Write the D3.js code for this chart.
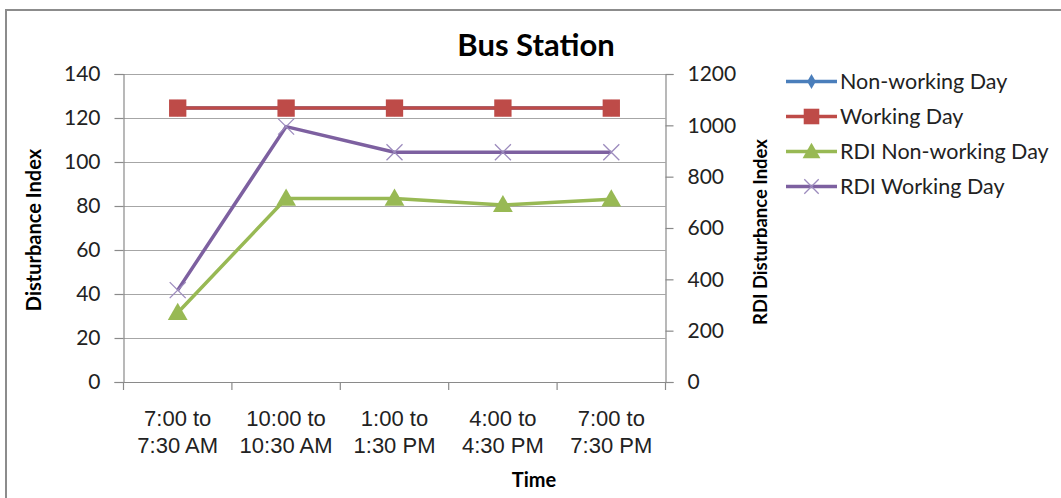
<!DOCTYPE html>
<html>
<head>
<meta charset="utf-8">
<script src="https://cdn.jsdelivr.net/npm/d3@7"></script>
<style>
  html, body { margin: 0; padding: 0; background: #fff; }
  svg { display: block; font-family: Lato, "Open Sans", sans-serif; }
</style>
</head>
<body>
<svg id="chart" width="1061" height="498"></svg>
<script>
// Time slots on the x axis (two lines each)
const categories = [
  "7:00 to|7:30 AM",
  "10:00 to|10:30 AM",
  "1:00 to|1:30 PM",
  "4:00 to|4:30 PM",
  "7:00 to|7:30 PM"
];

// Disturbance Index (left axis)
const nonWorkingDay = [124.5, 124.5, 124.5, 124.5, 124.5];
const workingDay    = [124.5, 124.5, 124.5, 124.5, 124.5];

// RDI Disturbance Index (right axis)
const rdiNonWorkingDay = [270, 715, 715, 690, 712];
const rdiWorkingDay    = [358, 995, 895, 895, 895];

const leftTicks  = [0, 20, 40, 60, 80, 100, 120, 140];
const rightTicks = [0, 200, 400, 600, 800, 1000, 1200];

const series = [
  { name: "Non-working Day",     values: nonWorkingDay,    axis: "left",  color: "#4A7EBB", marker: "diamond" },
  { name: "Working Day",         values: workingDay,       axis: "left",  color: "#BE4B48", marker: "square" },
  { name: "RDI Non-working Day", values: rdiNonWorkingDay, axis: "right", color: "#98B954", marker: "triangle" },
  { name: "RDI Working Day",     values: rdiWorkingDay,    axis: "right", color: "#7D60A0", marker: "cross" }
];

const svg = d3.select("#chart");
const plot = { left: 123.5, right: 665.5, top: 74, bottom: 382 };

const x = d3.scaleBand().domain(categories).range([plot.left, plot.right]);
const yL = d3.scaleLinear().domain([0, 140]).range([plot.bottom, plot.top]);
const yR = d3.scaleLinear().domain([0, 1200]).range([plot.bottom, plot.top]);
const cx = c => x(c) + x.bandwidth() / 2;

const axisColor = "#8a8a8a";
const textColor = "#222";

// outer chart frame
svg.append("rect")
  .attr("x", 6).attr("y", 10)
  .attr("width", 1070).attr("height", 500)
  .attr("fill", "none").attr("stroke", "#8c8c8c").attr("stroke-width", 2);

// horizontal gridlines from the left axis
svg.append("g")
  .attr("transform", `translate(${plot.left},0)`)
  .call(d3.axisLeft(yL).tickValues(leftTicks).tickSize(-(plot.right - plot.left)).tickFormat(""))
  .call(g => g.select(".domain").remove())
  .call(g => g.selectAll("line").attr("stroke", "#a6a6a6").attr("stroke-width", 1.2));

// left axis
svg.append("g")
  .attr("transform", `translate(${plot.left},0)`)
  .call(d3.axisLeft(yL).tickValues(leftTicks).tickSize(9).tickPadding(14))
  .call(g => g.select(".domain").attr("stroke", axisColor).attr("stroke-width", 1.2))
  .call(g => g.selectAll("line").attr("stroke", axisColor).attr("stroke-width", 1.2))
  .call(g => g.selectAll("text").attr("fill", textColor)
    .style("font-size", "21px").style("font-family", "Lato, sans-serif"));

// right axis
svg.append("g")
  .attr("transform", `translate(${plot.right},0)`)
  .call(d3.axisRight(yR).tickValues(rightTicks).tickFormat(d3.format("d")).tickSize(8).tickPadding(14))
  .call(g => g.select(".domain").attr("stroke", axisColor).attr("stroke-width", 1.2))
  .call(g => g.selectAll("line").attr("stroke", axisColor).attr("stroke-width", 1.2))
  .call(g => g.selectAll("text").attr("fill", textColor)
    .style("font-size", "21px").style("font-family", "Lato, sans-serif"));

// bottom axis: labels centred on each slot, ticks on slot boundaries
const xAxis = svg.append("g")
  .attr("transform", `translate(0,${plot.bottom})`)
  .call(d3.axisBottom(x).tickSize(0).tickPadding(0).tickFormat(""))
  .call(g => g.select(".domain").attr("stroke", axisColor).attr("stroke-width", 1.2));

const bounds = categories.map(c => x(c)).concat([x.range()[1]]);
xAxis.selectAll(".bnd").data(bounds).join("line")
  .attr("x1", d => d).attr("x2", d => d)
  .attr("y1", 0).attr("y2", 8)
  .attr("stroke", axisColor).attr("stroke-width", 1.2);

xAxis.selectAll(".tick text").remove();
const xl = xAxis.selectAll(".xlab").data(categories).join("text")
  .attr("class", "xlab")
  .attr("x", d => cx(d))
  .attr("text-anchor", "middle")
  .attr("fill", textColor)
  .style("font-size", "22px");
xl.selectAll("tspan").data(d => d.split("|")).join("tspan")
  .attr("x", function () { return d3.select(this.parentNode).attr("x"); })
  .attr("y", (d, i) => 44 + i * 27)
  .text(d => d);

// lines and markers
const sym = {
  diamond: d3.symbolDiamond,
  square: d3.symbolSquare,
  triangle: d3.symbolTriangle
};

function drawMarker(g, type, color, px, py, scale) {
  scale = scale || 1;
  if (type === "cross") {
    const s = 8 * scale;
    g.append("path")
      .attr("d", `M${px - s},${py - s}L${px + s},${py + s}M${px - s},${py + s}L${px + s},${py - s}`)
      .attr("stroke", "#9c8bbd").attr("stroke-width", 1.3).attr("fill", "none");
  } else {
    const size = { diamond: 80, square: 300, triangle: 170 }[type] * scale * scale;
    g.append("path")
      .attr("d", d3.symbol().type(sym[type]).size(size)())
      .attr("transform", `translate(${px},${py + (type === "triangle" ? 1.5 : 0)})`)
      .attr("fill", color);
  }
}

series.forEach(s => {
  const y = s.axis === "left" ? yL : yR;
  const g = svg.append("g");
  g.append("path")
    .datum(s.values)
    .attr("fill", "none")
    .attr("stroke", s.color)
    .attr("stroke-width", 3.5)
    .attr("stroke-linejoin", "round")
    .attr("d", d3.line().x((d, i) => cx(categories[i])).y(d => y(d)));
  s.values.forEach((v, i) => drawMarker(g, s.marker, s.color, cx(categories[i]), y(v)));
});

// title and axis titles
svg.append("text")
  .attr("x", 536).attr("y", 56)
  .attr("text-anchor", "middle")
  .attr("fill", "#000")
  .style("font-size", "31px").style("font-weight", "bold")
  .text("Bus Station");

svg.append("text")
  .attr("x", 534).attr("y", 487)
  .attr("text-anchor", "middle")
  .attr("fill", "#000")
  .style("font-size", "20px").style("font-weight", "bold")
  .text("Time");

svg.append("text")
  .attr("transform", "translate(41,230) rotate(-90)")
  .attr("text-anchor", "middle")
  .attr("fill", "#000")
  .style("font-size", "20px").style("font-weight", "bold")
  .text("Disturbance Index");

svg.append("text")
  .attr("transform", "translate(767,232) rotate(-90)")
  .attr("text-anchor", "middle")
  .attr("fill", "#000")
  .style("font-size", "18.5px").style("font-weight", "bold")
  .text("RDI Disturbance Index");

// legend
const legend = svg.append("g");
series.forEach((s, i) => {
  const ly = 81.5 + i * 35;
  const g = legend.append("g");
  g.append("line")
    .attr("x1", 786).attr("x2", 837).attr("y1", ly).attr("y2", ly)
    .attr("stroke", s.color).attr("stroke-width", 3.5);
  drawMarker(g, s.marker, s.color, 811.5, ly, 0.9);
  g.append("text")
    .attr("x", 840).attr("y", ly).attr("dy", "0.35em")
    .attr("fill", textColor)
    .style("font-size", "21.5px")
    .text(s.name);
});
</script>
</body>
</html>
